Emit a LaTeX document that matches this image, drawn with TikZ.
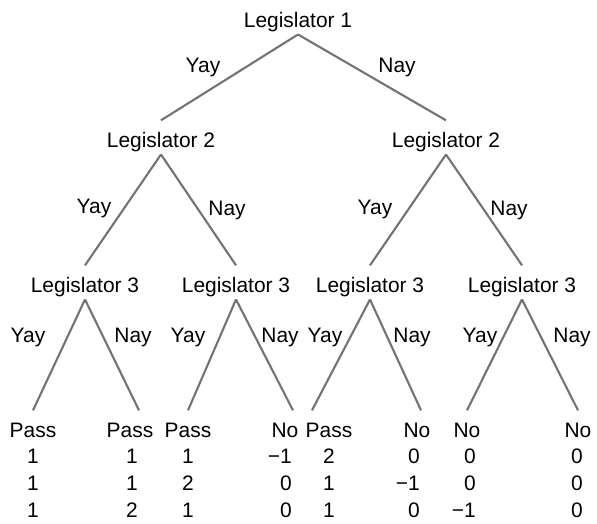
\documentclass[tikz,border=0pt]{standalone}
\usepackage{fontspec}
\setmainfont{Liberation Sans}

\begin{document}
\begin{tikzpicture}[
  every node/.style={font=\fontsize{14.9pt}{19.2pt}\selectfont},
  legis/.style={inner sep=0pt,text height=0.66cm,text depth=0.18cm,anchor=base},
  vote/.style={inner sep=0pt},
  payoff/.style={inner sep=0pt,align=right,anchor=north east},
  edge/.style={draw=black!55,line width=1.5pt}
]
\useasboundingbox (0,0) rectangle (14.925,-13.075);
% NODES
\node[legis] (l1) at (7.45,-0.675) {Legislator 1};

\node[legis] (l2y) at (4.025,-3.675) {Legislator 2};
\node[legis] (l2n) at (11.15,-3.675) {Legislator 2};

\node[legis] (l3yy) at (2.125,-7.3) {Legislator 3};
\node[legis] (l3yn) at (5.9,-7.3) {Legislator 3};
\node[legis] (l3ny) at (9.25,-7.3) {Legislator 3};
\node[legis] (l3nn) at (13.05,-7.3) {Legislator 3};
% OUTCOMES
\node[legis] (o1) at (0.825,-10.925) {Pass};
\node[legis] (o2) at (3.25,-10.925) {Pass};
\node[legis] (o3) at (4.7,-10.925) {Pass};
\node[legis] (o4) at (7.125,-10.925) {No};
\node[legis] (o5) at (8.225,-10.925) {Pass};
\node[legis] (o6) at (10.425,-10.925) {No};
\node[legis] (o7) at (11.675,-10.925) {No};
\node[legis] (o8) at (14.45,-10.925) {No};
% PAYOFFS
\node[payoff] (p1) at (0.975,-11.225) {1\\1\\1};
\node[payoff] (p2) at (3.45,-11.225) {1\\1\\2};
\node[payoff] (p3) at (4.85,-11.225) {1\\2\\1};
\node[payoff] (p4) at (7.3,-11.225) {−1\\0\\0};
\node[payoff] (p5) at (8.375,-11.225) {2\\1\\1};
\node[payoff] (p6) at (10.5,-11.225) {0\\−1\\0};
\node[payoff] (p7) at (11.9,-11.225) {0\\0\\−1};
\node[payoff] (p8) at (14.575,-11.225) {0\\0\\0};
% CONNECTIONS
\draw[edge] (l1.south) -- (l2y.north);
\draw[edge] (l1.south) -- (l2n.north);

\draw[edge] (l2y.south) -- (l3yy.north);
\draw[edge] (l2y.south) -- (l3yn.north);
\draw[edge] (l2n.south) -- (l3ny.north);
\draw[edge] (l2n.south) -- (l3nn.north);

\draw[edge] (l3yy.south) -- (o1.north);
\draw[edge] (l3yy.south) -- ([xshift=0.225cm]o2.north);
\draw[edge] (l3yn.south) -- (o3.north);
\draw[edge] (l3yn.south) -- ([xshift=0.2cm]o4.north);
\draw[edge] (l3ny.south) -- ([xshift=-0.425cm]o5.north);
\draw[edge] (l3ny.south) -- ([xshift=0.1cm]o6.north);
\draw[edge] (l3nn.south) -- (o7.north);
\draw[edge] (l3nn.south) -- (o8.north);
% VOTES
\node[vote] (v1y) at (5.075,-1.675) {Yay};
\node[vote] (v1n) at (9.925,-1.675) {Nay};

\node[vote] (v2yy) at (2.35,-5.2) {Yay};
\node[vote] (v2yn) at (5.675,-5.25) {Nay};
\node[vote] (v2ny) at (9.375,-5.225) {Yay};
\node[vote] (v2nn) at (12.725,-5.25) {Nay};

\node[vote] (v3a) at (0.7,-8.425) {Yay};
\node[vote] (v3b) at (3.325,-8.425) {Nay};
\node[vote] (v3c) at (4.7,-8.425) {Yay};
\node[vote] (v3d) at (7.0,-8.425) {Nay};
\node[vote] (v3e) at (8.125,-8.425) {Yay};
\node[vote] (v3f) at (10.3,-8.425) {Nay};
\node[vote] (v3g) at (12.0,-8.425) {Yay};
\node[vote] (v3h) at (14.3,-8.425) {Nay};
\end{tikzpicture}
\end{document}
